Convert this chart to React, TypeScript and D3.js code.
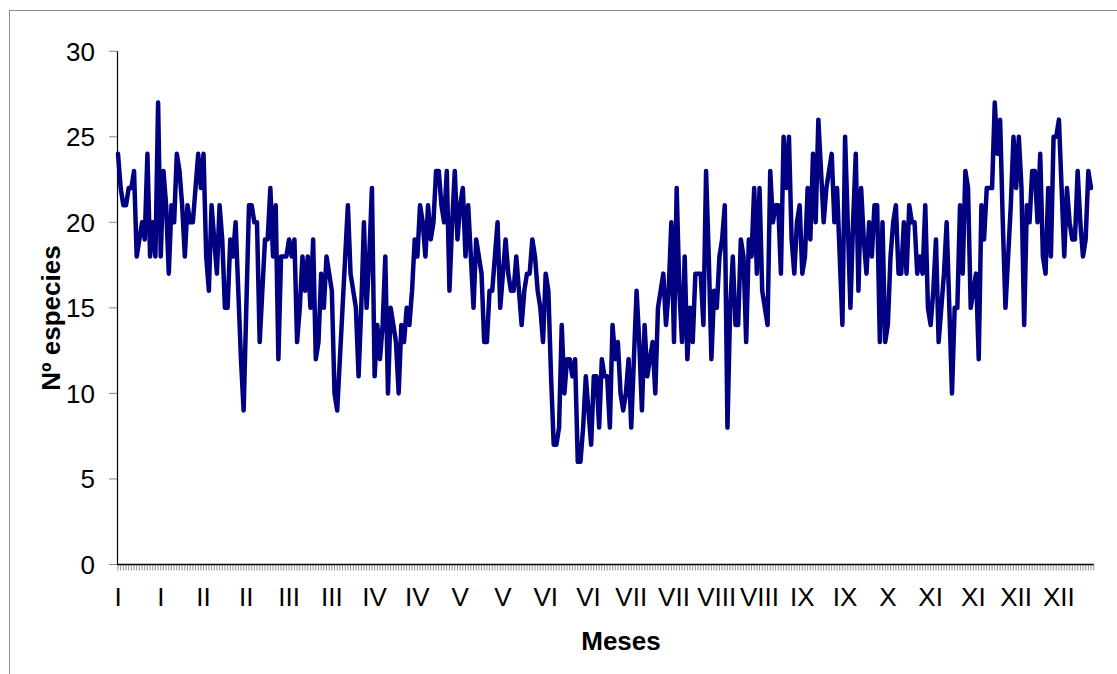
import * as d3 from "d3";

const monthNames = ["I", "II", "III", "IV", "V", "VI", "VII", "VIII", "IX", "X", "XI", "XII"];

// nº de especies por día, mes a mes
const jan = [24, 22, 21, 21, 22, 22, 23, 18, 19, 20, 19, 24, 18, 20, 18, 27, 18, 23, 21, 17, 21, 20, 24, 23, 21, 18, 21, 20, 20, 22, 24];
const feb = [22, 24, 18, 16, 21, 19, 17, 21, 19, 15, 15, 19, 18, 20, 16, 12, 9, 15, 21, 21, 20, 20, 13, 16, 19, 19, 22, 18];
const mar = [21, 12, 18, 18, 18, 19, 18, 19, 13, 15, 18, 16, 18, 15, 19, 12, 13, 17, 15, 18, 17, 16, 10, 9, 12, 15, 18, 21, 17, 16, 15];
const apr = [11, 15, 20, 15, 18, 22, 11, 14, 12, 14, 18, 10, 15, 14, 13, 10, 14, 13, 15, 14, 16, 19, 18, 21, 20, 18, 21, 19, 20, 23];
const may = [23, 21, 20, 23, 16, 20, 23, 19, 21, 22, 18, 21, 18, 15, 19, 18, 17, 13, 13, 16, 16, 18, 20, 15, 17, 19, 17, 16, 16, 18, 16];
const jun = [14, 16, 17, 17, 19, 18, 16, 15, 13, 17, 16, 11, 7, 7, 8, 14, 10, 12, 12, 11, 12, 6, 6, 8, 11, 9, 7, 11, 11, 8];
const jul = [12, 11, 11, 8, 14, 12, 13, 10, 9, 10, 12, 8, 12, 16, 13, 9, 14, 11, 12, 13, 10, 15, 16, 17, 14, 16, 20, 13, 22, 16, 13];
const aug = [18, 12, 15, 13, 17, 17, 17, 14, 23, 18, 12, 16, 15, 18, 19, 21, 8, 15, 18, 14, 14, 19, 18, 13, 19, 18, 22, 17, 22, 16, 15];
const sep = [14, 23, 20, 21, 21, 17, 25, 22, 25, 19, 17, 20, 21, 17, 18, 22, 19, 24, 20, 26, 23, 20, 22, 23, 24, 20, 22, 18, 14, 25];
const oct = [20, 15, 20, 24, 16, 22, 19, 17, 20, 18, 21, 21, 13, 20, 13, 14, 18, 20, 21, 17, 17, 20, 17, 21, 20, 20, 17, 18, 17, 21, 15];
const nov = [14, 16, 19, 13, 15, 17, 20, 15, 10, 15, 15, 21, 17, 23, 22, 15, 16, 17, 12, 21, 19, 22, 22, 22, 27, 24, 26, 20, 15, 18];
const dec = [21, 25, 22, 25, 22, 14, 21, 20, 23, 23, 20, 24, 18, 17, 22, 18, 25, 25, 26, 22, 18, 22, 20, 19, 19, 23, 20, 18, 19, 23, 22];

const yTicks = [0, 5, 10, 15, 20, 25, 30];
const labelStep = 16;

const months = [jan, feb, mar, apr, may, jun, jul, aug, sep, oct, nov, dec];

export default function App() {
  const values: number[] = months.flat();
  const dayMonth: string[] = months.flatMap((m, k) => m.map(() => monthNames[k]));
  const n = values.length;

  const W = 1117;
  const H = 674;
  const x = d3.scaleLinear().domain([0, n - 1]).range([118, 1091]);
  const y = d3.scaleLinear().domain([0, 30]).range([564.5, 51.2]);
  const line = d3
    .line<number>()
    .x((_, i) => x(i))
    .y((d) => y(d));

  const labelIdx = d3.range(0, n, labelStep);
  const font = "'Liberation Sans', Arial, sans-serif";

  return (
    <svg
      width={W}
      height={H}
      viewBox={`0 0 ${W} ${H}`}
      style={{ position: "absolute", left: 0, top: 0, background: "#fff" }}
      fontFamily={font}
    >
      <rect x={9.5} y={10.5} width={1200} height={700} fill="#fff" stroke="#8c8c8c" strokeWidth={1} />

      {/* eje Y */}
      {yTicks.map((t) => (
        <g key={t}>
          <line x1={109} x2={117} y1={y(t)} y2={y(t)} stroke="#888" strokeWidth={1} />
          <text x={95} y={y(t)} dy="0.36em" textAnchor="end" fontSize={26} fill="#000">
            {t}
          </text>
        </g>
      ))}
      <line x1={117.5} x2={117.5} y1={y(30)} y2={y(0)} stroke="#000" strokeWidth={1.2} />

      {/* eje X: una marca por día */}
      {d3.range(0, n + 1).map((i) => (
        <line key={i} x1={x(i)} x2={x(i)} y1={y(0)} y2={y(0) + 6} stroke="#666" strokeWidth={0.7} />
      ))}
      <line x1={117} x2={x(n)} y1={y(0)} y2={y(0)} stroke="#000" strokeWidth={1.4} />
      {labelIdx.map((i) => (
        <text key={i} x={x(i)} y={606} textAnchor="middle" fontSize={26} fill="#000">
          {dayMonth[i]}
        </text>
      ))}

      <path d={line(values) ?? ""} fill="none" stroke="#000080" strokeWidth={4.5} strokeLinejoin="round" strokeLinecap="round" />

      <text x={621} y={650} textAnchor="middle" fontSize={26} fontWeight="bold" fill="#000">
        Meses
      </text>
      <text
        transform="translate(60, 318) rotate(-90)"
        textAnchor="middle"
        fontSize={26}
        fontWeight="bold"
        fill="#000"
      >
        Nº especies
      </text>
    </svg>
  );
}
